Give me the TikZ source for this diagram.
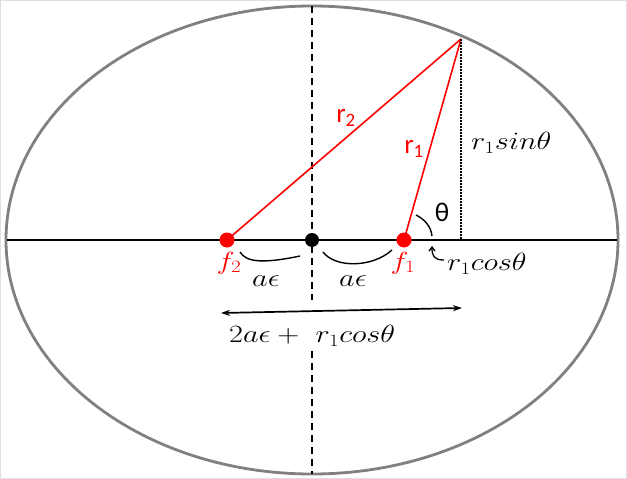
\documentclass[tikz,border=0pt]{standalone}
\usepackage{fontspec}
\usepackage{graphicx}
\newfontfamily\sansf{Carlito}
\usetikzlibrary{arrows.meta}
\definecolor{ellgray}{RGB}{128,128,128}
\definecolor{fred}{RGB}{255,0,0}
\newcommand{\stretchx}[1]{\scalebox{1.22}[1]{#1}}
\begin{document}
\begin{tikzpicture}[x=1pt,y=-1pt,
  dot/.style={circle,inner sep=0pt,minimum size=15pt},
  redline/.style={fred,line width=1.6pt},
  lbl/.style={font=\fontsize{26}{28}\selectfont, inner sep=0pt},
  slbl/.style={font=\sansf\fontsize{27}{29}\selectfont, inner sep=0pt},
  curvy/.style={line width=1.4pt},
  axisline/.style={line width=2pt},
  dashline/.style={line width=1.7pt, dash pattern=on 7pt off 5pt}]
\useasboundingbox (0,0) rectangle (627,479);
\draw[gray!25,line width=1pt] (0.5,0.5) rectangle (626.5,478.5);
% ellipse
\draw[ellgray, line width=2.8pt] (312,240) ellipse [x radius=306, y radius=234];
% axes
\coordinate (L) at (7,240);
\coordinate (R) at (617,240);
\coordinate (T) at (312,6);
\coordinate (D1) at (312,300);
\coordinate (D2) at (312,351);
\coordinate (B) at (312,474);
\draw[axisline] (L) -- (R);
\draw[dashline] (T) -- (D1);
\draw[dashline] (D2) -- (B);
% points
\coordinate (P) at (461,39);
\coordinate (Pf) at (461,240);
\node[dot,fill=fred] (f2) at (227,240) {};
\node[dot,fill=black,minimum size=14pt] (c) at (312,240) {};
\node[dot,fill=fred] (f1) at (404,240) {};
\draw[redline] (f2.center) -- (P);
\draw[redline] (f1.center) -- (P);
\draw[line width=1.3pt, dash pattern=on 1.5pt off 1.5pt] (P) -- (Pf);
% labels
\node[slbl,text=fred] (lr2) at (346,118) {r\textsubscript{2}};
\node[slbl,text=fred] (lr1) at (414,149) {r\textsubscript{1}};
\node[slbl] (lth) at (442,212) {θ};
\node[lbl,anchor=west] (lsin) at (471,143) {\stretchx{$r_1 sin\theta$}};
\node[lbl,anchor=west] (lcos) at (447,264) {\stretchx{$r_1 cos\theta$}};
\node[lbl,text=fred] (lf2) at (229,263) {\stretchx{$f_2$}};
\node[lbl,text=fred] (lf1) at (403,263) {\stretchx{$f_1$}};
\node[lbl] (ae1) at (266,281) {\stretchx{$a\epsilon$}};
\node[lbl] (ae2) at (353,281) {\stretchx{$a\epsilon$}};
\node[lbl,anchor=west] (sum) at (229,336) {\stretchx{$2a\epsilon +\ r_1 cos\theta$}};
% braces
\coordinate (b1s) at (240,252);
\coordinate (b1e) at (300,256);
\coordinate (b2s) at (323,252);
\coordinate (b2e) at (392,250);
\draw[curvy] (b1s) .. controls (246,262) and (262,264) .. (b1e);
\draw[curvy] (b2s) .. controls (335,268) and (372,268) .. (b2e);
% angle arc
\coordinate (a1) at (416,215);
\coordinate (a2) at (432,236);
\draw[curvy] (a1) .. controls (424,219) and (431,226) .. (a2);
% hook arrow
\coordinate (h1) at (444,260);
\coordinate (h2) at (432,246);
\draw[line width=1.3pt,-{Straight Barb[length=4pt,width=6pt]}] (h1) .. controls (434,260) and (432,256) .. (h2);
% double arrow
\coordinate (A1) at (221,313);
\coordinate (A2) at (462,308);
\draw[line width=1.7pt,{Stealth[length=9pt,width=6pt]}-{Stealth[length=9pt,width=6pt]}] (A1) -- (A2);
\end{tikzpicture}
\end{document}
